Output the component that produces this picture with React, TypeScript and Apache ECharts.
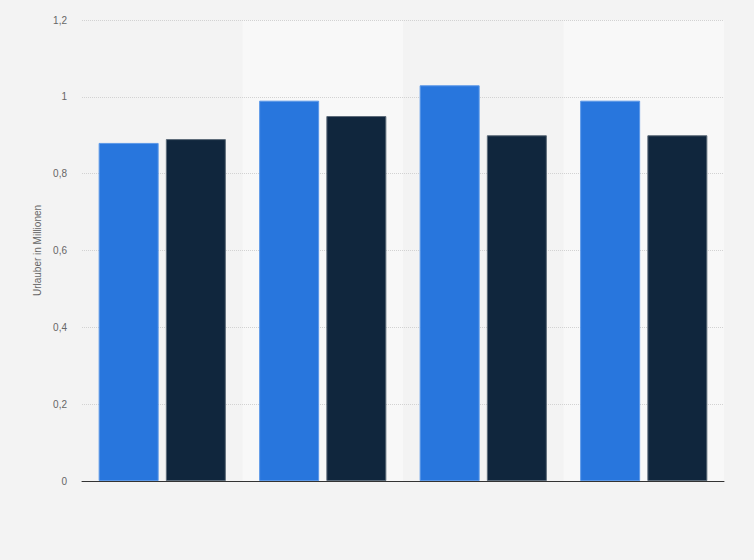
import { useEffect, useRef } from 'react'
import * as echarts from 'echarts'

const categories = ['1', '2', '3', '4']
const seriesA = [0.88, 0.99, 1.03, 0.99]
const seriesB = [0.89, 0.95, 0.9, 0.9]
const yTicks = [0, 0.2, 0.4, 0.6, 0.8, 1, 1.2]

const FONT = 'Arial, "Liberation Sans", sans-serif'

export default function App() {
  const ref = useRef<HTMLDivElement>(null)

  useEffect(() => {
    if (!ref.current) return
    const chart = echarts.init(ref.current, null, { renderer: 'svg' })
    const barStyle = (fill: string, border: string) => ({ color: fill, borderColor: border, borderWidth: 1 })
    chart.setOption({
      animation: false,
      backgroundColor: '#f3f3f3',
      textStyle: { fontFamily: FONT },
      grid: { left: 82, right: 30, top: 20, bottom: 79 },
      xAxis: {
        type: 'category', data: categories, z: 0,
        axisLabel: { show: false }, axisTick: { show: false },
        axisLine: { lineStyle: { color: '#333', width: 1 } },
        splitArea: { show: true, areaStyle: { color: ['rgba(0,0,0,0)', '#f8f8f8'] } },
      },
      yAxis: {
        type: 'value', min: yTicks[0], max: yTicks[yTicks.length - 1], interval: 0.2, z: 1,
        name: 'Urlauber in Millionen', nameLocation: 'middle', nameGap: 40,
        nameTextStyle: { color: '#666', fontSize: 10, fontFamily: FONT },
        axisLine: { show: false }, axisTick: { show: false },
        axisLabel: { color: '#666', fontSize: 10, margin: 15, formatter: (v: number) => String(Math.round(v * 10) / 10).replace('.', ',') },
        splitLine: { showMinLine: false, lineStyle: { color: '#d2d2d2', type: [1, 1], width: 1 } },
      },
      series: [
        { type: 'bar', data: seriesA, barWidth: 60, barGap: '12%', z: 3, itemStyle: barStyle('#2876dd', '#5b98e8') },
        { type: 'bar', data: seriesB, barWidth: 60, z: 3, itemStyle: barStyle('#10263d', '#5d6b79') },
      ],
    })
    return () => chart.dispose()
  }, [])

  return <div ref={ref} style={{ position: 'fixed', left: 0, top: 0, width: 754, height: 560 }} />
}
